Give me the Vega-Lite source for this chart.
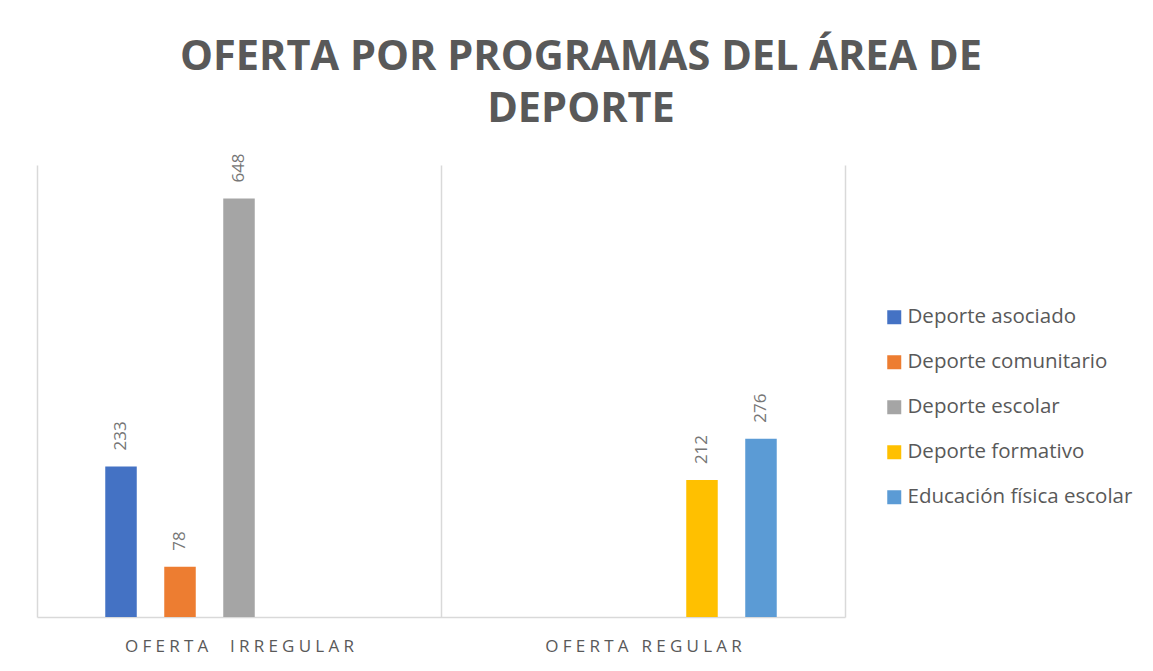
{
  "$schema": "https://vega.github.io/schema/vega-lite/v6.json",
  "width": 808,
  "height": 452,
  "autosize": "none",
  "padding": {"left": 37, "top": 165, "right": 308, "bottom": 54},
  "background": "white",
  "title": {
    "text": ["OFERTA POR PROGRAMAS DEL ÁREA DE", "DEPORTE"],
    "anchor": "middle",
    "frame": "group",
    "dx": 140,
    "offset": 23,
    "font": "Open Sans",
    "fontSize": 41.5,
    "fontWeight": "bold",
    "color": "#595959",
    "lineHeight": 52
  },
  "data": {
    "values": [
      {"oferta": "OFERTA  IRREGULAR", "programa": "Deporte asociado", "valor": 233},
      {"oferta": "OFERTA  IRREGULAR", "programa": "Deporte comunitario", "valor": 78},
      {"oferta": "OFERTA  IRREGULAR", "programa": "Deporte escolar", "valor": 648},
      {"oferta": "OFERTA REGULAR", "programa": "Deporte formativo", "valor": 212},
      {"oferta": "OFERTA REGULAR", "programa": "Educación física escolar", "valor": 276}
    ]
  },
  "encoding": {
    "x": {
      "field": "oferta",
      "type": "nominal",
      "sort": ["OFERTA  IRREGULAR", "OFERTA REGULAR"],
      "scale": {"paddingInner": 0, "paddingOuter": 0},
      "axis": {
        "title": null,
        "labelAngle": 0,
        "labelFont": "Open Sans",
        "labelFontSize": 17,
        "labelColor": "#595959",
        "labelPadding": 21,
        "labelLimit": 500,
        "labelExpr": "replace(datum.label, regexp('(.)(?!$)', 'g'), '$1\u2005')",
        "ticks": false,
        "tickBand": "extent",
        "grid": true,
        "gridColor": "#d9d9d9",
        "gridWidth": 1.5,
        "domainColor": "#d9d9d9",
        "domainWidth": 1.5
      }
    },
    "xOffset": {
      "field": "programa",
      "type": "nominal",
      "scale": {
        "domain": ["_inicio", "Deporte asociado", "Deporte comunitario", "Deporte escolar", "Deporte formativo", "Educación física escolar", "_fin"],
        "paddingInner": 0.466,
        "paddingOuter": 0.157
      }
    },
    "y": {
      "field": "valor",
      "type": "quantitative",
      "scale": {"domain": [0, 700]},
      "axis": null
    }
  },
  "layer": [
    {
      "mark": {"type": "bar"},
      "encoding": {
        "color": {
          "field": "programa",
          "type": "nominal",
          "scale": {
            "domain": ["Deporte asociado", "Deporte comunitario", "Deporte escolar", "Deporte formativo", "Educación física escolar"],
            "range": ["#4472C4", "#ED7D31", "#A5A5A5", "#FFC000", "#5B9BD5"]
          },
          "legend": {
            "title": null,
            "orient": "none",
            "legendX": 847,
            "legendY": 142,
            "padding": 0,
            "symbolType": "square",
            "symbolSize": 196,
            "symbolStrokeWidth": 0,
            "symbolOpacity": 1,
            "labelFont": "Open Sans",
            "labelFontSize": 20.5,
            "labelColor": "#595959",
            "labelOffset": 3,
            "labelLimit": 400,
            "rowPadding": 24
          }
        }
      }
    },
    {
      "mark": {
        "type": "text",
        "angle": 270,
        "align": "left",
        "baseline": "middle",
        "dx": 16,
        "font": "Open Sans",
        "fontSize": 17,
        "color": "#767676"
      },
      "encoding": {
        "text": {"field": "valor", "type": "quantitative"}
      }
    }
  ],
  "config": {
    "view": {"stroke": null}
  }
}
